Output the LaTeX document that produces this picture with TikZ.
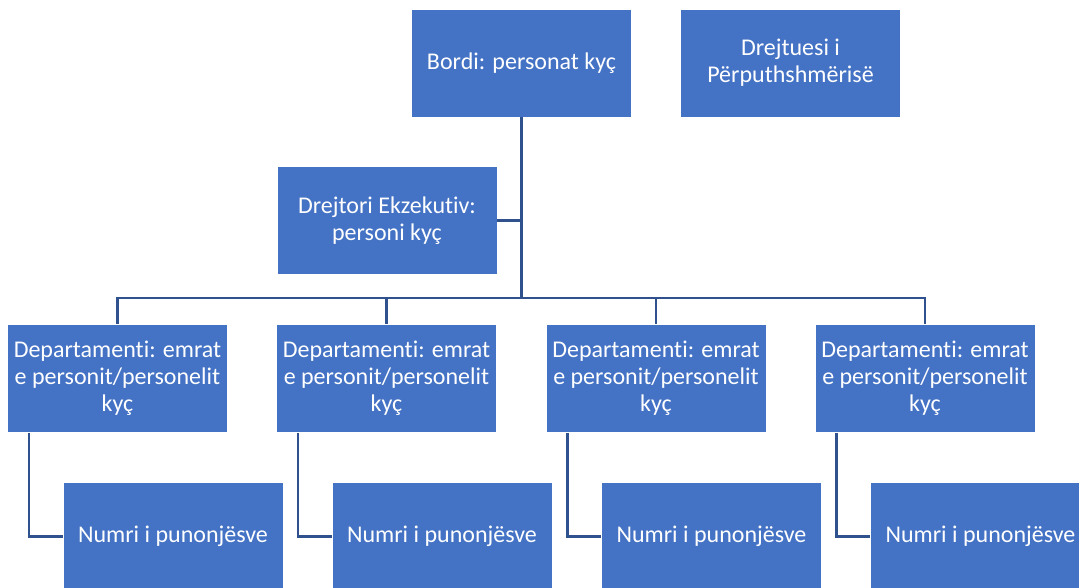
\documentclass[tikz,border=0pt]{standalone}
\usepackage{fontspec}
\setmainfont[Ligatures=NoCommon]{Carlito}
\usetikzlibrary{positioning, calc}

\definecolor{boxblue}{HTML}{4472C4}
\definecolor{lineblue}{HTML}{2F528F}

\begin{document}
\begin{tikzpicture}[
        x=0.75pt, y=-0.75pt,
        box/.style={
            rectangle,
            draw=white,
            line width=0.6pt,
            fill=boxblue,
            text=white,
            minimum width=165pt,
            minimum height=81pt,
            inner sep=0pt,
            align=center,
            font=\fontsize{18}{20.3}\selectfont
        },
        link/.style={
            draw=lineblue,
            line width=1.7pt
        }
    ]

    \clip (0,0) rectangle (1079,587);
    \fill[white] (0,0) rectangle (1079,587);

    % top row
    \node[box] (bordi) at (521.5, 63) {Bordi: personat kyç};
    \node[box] (drejt) at (790.5, 63) {Drejtuesi i\\Përputhshmërisë};

    \node[box] (exec) at (387, 220.5) {Drejtori Ekzekutiv:\\personi kyç};

    % departments and staff
    \foreach \i/\x in {1/117.5, 2/386.5, 3/656, 4/925} {
        \node[box] (d\i) at (\x, 378.5) {Departamenti: emrat\\e personit/personelit\\kyç};
        \node[box] (n\i) at ($(\x, 536.5) + (55.5, 0)$) {Numri i punonjësve};
    }

    \coordinate (bus) at (521.5, 298);

    \draw[link] (bordi.south) -- (bus);
    \draw[link] (exec.east) -- (exec.east -| bus);
    \foreach \i in {1,...,4} {
        \draw[link] (d\i.north) |- (bus);
        \draw[link] ([xshift=16.5pt]d\i.south west) |- (n\i.west);
    }

\end{tikzpicture}
\end{document}
